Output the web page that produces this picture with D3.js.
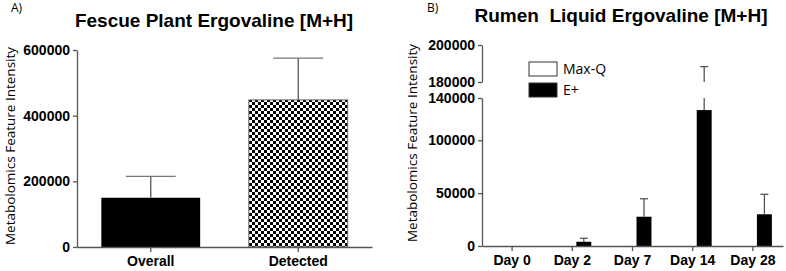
<!DOCTYPE html>
<html>
<head>
<meta charset="utf-8">
<script src="https://cdn.jsdelivr.net/npm/d3@7"></script>
<style>
  body { margin: 0; background: white; }
  .tick text { font-family: "Liberation Sans", Arial, sans-serif; font-weight: bold; font-size: 14px; fill: black; }
  .axis path, .axis line { stroke: #555; stroke-width: 1.3px; }
</style>
</head>
<body>
<div id="chart"></div>
<script>
// panel A: fescue plant
const fescueCats = ["Overall", "Detected"];
const fescueMeans = [150000, 448000];
const fescueErr = [65000, 127000];
const fescueTicks = [0, 200000, 400000, 600000];

// panel B: rumen liquid, two series per day
const rumenDays = ["Day 0", "Day 2", "Day 7", "Day 14", "Day 28"];
const rumenSeries = ["Max-Q", "E+"];
const maxQMeans = [0, 0, 0, 0, 0];
const maxQErr = [0, 0, 0, 0, 0];
const ePlusMeans = [0, 4000, 27700, 128600, 30000];
const ePlusErr = [0, 3300, 17000, 59700, 18900];
const rumenLowTicks = [0, 50000, 100000, 140000];
const rumenHighTicks = [180000, 200000];

const width = 786, height = 271;
const svg = d3.select("#chart").append("svg")
    .attr("width", width).attr("height", height);

const defs = svg.append("defs");
const pat = defs.append("pattern")
    .attr("id", "checker")
    .attr("patternUnits", "userSpaceOnUse")
    .attr("width", 6).attr("height", 6);
pat.append("rect").attr("width", 6).attr("height", 6).attr("fill", "white");
pat.append("rect").attr("width", 3).attr("height", 3).attr("fill", "black");
pat.append("rect").attr("x", 3).attr("y", 3).attr("width", 3).attr("height", 3).attr("fill", "black");

const fmt = d3.format("d");
const sansLabel = "'Open Sans', 'Noto Sans', sans-serif";
const boldFont = "'Liberation Sans', Arial, sans-serif";

// ---------- Panel A ----------
const xA = d3.scaleBand().domain(fescueCats).range([77, 372])
    .paddingInner(0.33).paddingOuter(0.165);
const yA = d3.scaleLinear().domain([0, 600000]).range([247, 50]);

const gA = svg.append("g");

gA.selectAll(".barA")
    .data(fescueCats)
    .join("rect")
    .attr("class", "barA")
    .attr("x", d => xA(d))
    .attr("width", xA.bandwidth())
    .attr("y", (d, i) => yA(fescueMeans[i]))
    .attr("height", (d, i) => yA(0) - yA(fescueMeans[i]))
    .attr("fill", (d, i) => i == 0 ? "black" : "url(#checker)")
    .attr("stroke", (d, i) => i == 0 ? "none" : "#666")
    .attr("stroke-width", 1);

// error bars (upper only)
fescueCats.forEach((c, i) => {
    const cx = xA(c) + xA.bandwidth() / 2;
    const top = yA(fescueMeans[i] + fescueErr[i]);
    gA.append("line").attr("x1", cx).attr("x2", cx)
        .attr("y1", yA(fescueMeans[i])).attr("y2", top)
        .attr("stroke", "#555").attr("stroke-width", 1.3);
    gA.append("line").attr("x1", cx - 25).attr("x2", cx + 25)
        .attr("y1", top).attr("y2", top)
        .attr("stroke", "#777").attr("stroke-width", 1.3);
});

gA.append("g").attr("class", "axis")
    .attr("transform", "translate(77,0)")
    .call(d3.axisLeft(yA).tickValues(fescueTicks).tickFormat(fmt).tickSize(4).tickSizeOuter(0).tickPadding(3));

gA.append("g").attr("class", "axis")
    .attr("transform", "translate(0,247)")
    .call(d3.axisBottom(xA).tickSize(5).tickSizeOuter(0).tickPadding(4));

gA.append("text").attr("x", 214).attr("y", 27)
    .attr("text-anchor", "middle")
    .style("font-family", boldFont).style("font-weight", "bold").style("font-size", "19px")
    .text("Fescue Plant Ergovaline [M+H]");

gA.append("text").attr("x", 11).attr("y", 12)
    .style("font-family", sansLabel).style("font-size", "12px")
    .text("A)");

gA.append("text")
    .attr("transform", "translate(15,146) rotate(-90)")
    .attr("text-anchor", "middle")
    .style("font-family", sansLabel).style("font-size", "13.5px")
    .text("Metabolomics Feature Intensity");

// ---------- Panel B ----------
const xB = d3.scaleBand().domain(rumenDays).range([482, 783])
    .paddingInner(0.37).paddingOuter(0.185);
const xSub = d3.scaleBand().domain(rumenSeries).range([0, xB.bandwidth()])
    .paddingInner(0.35).paddingOuter(0);
const yLow = d3.scaleLinear().domain([0, 140000]).range([246, 98]);
const yHigh = d3.scaleLinear().domain([180000, 200000]).range([82, 45]);

const gB = svg.append("g");

const rows = [];
rumenDays.forEach((d, i) => {
    rows.push({ day: d, series: "Max-Q", mean: maxQMeans[i], err: maxQErr[i] });
    rows.push({ day: d, series: "E+", mean: ePlusMeans[i], err: ePlusErr[i] });
});

// bars (values beyond 140000 would be clipped to the lower segment)
gB.selectAll(".barB")
    .data(rows.filter(r => r.mean > 0))
    .join("rect")
    .attr("class", "barB")
    .attr("x", r => xB(r.day) + xSub(r.series))
    .attr("width", xSub.bandwidth())
    .attr("y", r => yLow(Math.min(r.mean, 140000)))
    .attr("height", r => yLow(0) - yLow(Math.min(r.mean, 140000)))
    .attr("fill", r => r.series == "E+" ? "black" : "white")
    .attr("stroke", r => r.series == "E+" ? "none" : "#333");

// error bars, broken across the two axis segments
rows.filter(r => r.err > 0).forEach(r => {
    const cx = xB(r.day) + xSub(r.series) + xSub.bandwidth() / 2;
    const topVal = r.mean + r.err;
    let capY;
    if (topVal <= 140000) {
        gB.append("line").attr("x1", cx).attr("x2", cx)
            .attr("y1", yLow(r.mean)).attr("y2", yLow(topVal))
            .attr("stroke", "#555").attr("stroke-width", 1.3);
        capY = yLow(topVal);
    } else {
        gB.append("line").attr("x1", cx).attr("x2", cx)
            .attr("y1", yLow(r.mean)).attr("y2", yLow(140000))
            .attr("stroke", "#555").attr("stroke-width", 1.3);
        gB.append("line").attr("x1", cx).attr("x2", cx)
            .attr("y1", yHigh(180000)).attr("y2", yHigh(topVal))
            .attr("stroke", "#555").attr("stroke-width", 1.3);
        capY = yHigh(topVal);
    }
    gB.append("line").attr("x1", cx - 4).attr("x2", cx + 4)
        .attr("y1", capY).attr("y2", capY)
        .attr("stroke", "#555").attr("stroke-width", 1.3);
});

gB.append("g").attr("class", "axis")
    .attr("transform", "translate(482,0)")
    .call(d3.axisLeft(yLow).tickValues(rumenLowTicks).tickFormat(fmt).tickSize(4).tickSizeOuter(0).tickPadding(3));

gB.append("g").attr("class", "axis")
    .attr("transform", "translate(482,0)")
    .call(d3.axisLeft(yHigh).tickValues(rumenHighTicks).tickFormat(fmt).tickSize(4).tickSizeOuter(0).tickPadding(3));

gB.append("g").attr("class", "axis")
    .attr("transform", "translate(0,246)")
    .call(d3.axisBottom(xB).tickSize(5).tickSizeOuter(0).tickPadding(4));

// legend
const legend = gB.append("g");
rumenSeries.forEach((s, i) => {
    legend.append("rect")
        .attr("x", 529).attr("y", 62 + i * 21)
        .attr("width", 28).attr("height", 14)
        .attr("fill", s == "E+" ? "black" : "white")
        .attr("stroke", "#333").attr("stroke-width", 1);
    legend.append("text")
        .attr("x", 563).attr("y", 74 + i * 21)
        .style("font-family", sansLabel).style("font-size", "14px")
        .text(s);
});

gB.append("text").attr("x", 621).attr("y", 22)
    .attr("text-anchor", "middle")
    .attr("xml:space", "preserve")
    .style("white-space", "pre")
    .style("font-family", boldFont).style("font-weight", "bold").style("font-size", "19px")
    .text("Rumen  Liquid Ergovaline [M+H]");

gB.append("text").attr("x", 427).attr("y", 12)
    .style("font-family", sansLabel).style("font-size", "12px")
    .text("B)");

gB.append("text")
    .attr("transform", "translate(417,143) rotate(-90)")
    .attr("text-anchor", "middle")
    .style("font-family", sansLabel).style("font-size", "13.5px")
    .text("Metabolomics Feature Intensity");
</script>
</body>
</html>
